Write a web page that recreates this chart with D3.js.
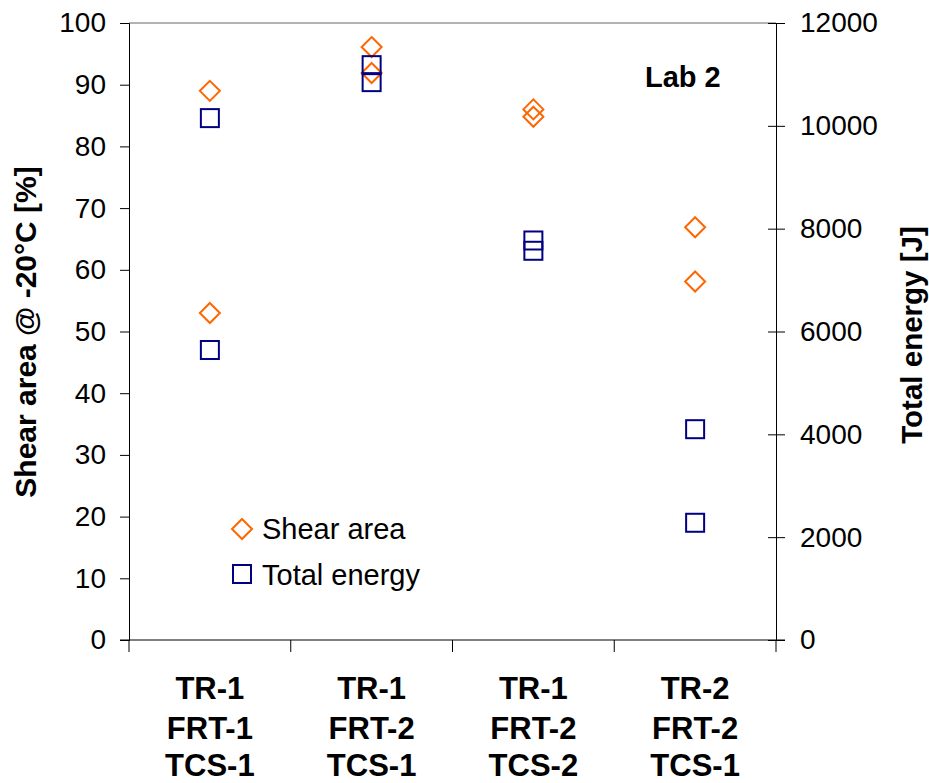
<!DOCTYPE html>
<html><head><meta charset="utf-8">
<script src="https://cdn.jsdelivr.net/npm/d3@7"></script>
<style>body{margin:0;background:#fff}text{font-family:"Liberation Sans",Arial,sans-serif}</style>
</head><body><svg id="c" width="929" height="783"></svg>
<script>
const categories = [["TR-1","FRT-1","TCS-1"],["TR-1","FRT-2","TCS-1"],["TR-1","FRT-2","TCS-2"],["TR-2","FRT-2","TCS-1"]];
const shearArea = [[89.0,53.0],[96.1,91.9],[86.0,84.8],[66.9,58.1]];
const totalEnergy = [[10150,5640],[11180,10850],[7770,7570],[4100,2280]];
const leftTicks = [0,10,20,30,40,50,60,70,80,90,100];
const rightTicks = [0,2000,4000,6000,8000,10000,12000];

const svg = d3.select("#c");
const L=129, R=776, T=23, B=640;
const x = d3.scaleBand().domain(d3.range(categories.length)).range([L,R]).paddingInner(0).paddingOuter(0);
const yL = d3.scaleLinear().domain([0,100]).range([B,T]);
const yR = d3.scaleLinear().domain([0,12000]).range([B,T]);
const orange="#FF6600", navy="#000080";

// top border
svg.append("line").attr("x1",L).attr("x2",R).attr("y1",T).attr("y2",T).attr("stroke","#999").attr("stroke-width",1.5);

// left axis
const gl = svg.append("g").attr("transform",`translate(${L},0)`)
  .call(d3.axisLeft(yL).tickValues(leftTicks).tickSize(9).tickPadding(14));
gl.selectAll("text").style("font-size","28px").attr("fill","#000");
gl.selectAll("line,path").attr("stroke","#000");

// right axis
const gr = svg.append("g").attr("transform",`translate(${R},0)`)
  .call(d3.axisRight(yR).tickValues(rightTicks).tickFormat(d3.format("d")).tickSize(9).tickPadding(15));
gr.selectAll("text").style("font-size","28px").attr("fill","#000");
gr.selectAll("line,path").attr("stroke","#000");
gr.selectAll(".tick line").attr("x1",-8);

// bottom axis
const bx = d3.range(categories.length+1).map(i=> i<categories.length ? x(i) : R);
svg.append("line").attr("x1",L-9).attr("x2",R+9).attr("y1",B).attr("y2",B).attr("stroke","#000");
svg.selectAll(".bt").data(bx).enter().append("line")
  .attr("x1",d=>d).attr("x2",d=>d).attr("y1",B).attr("y2",B+12).attr("stroke","#000");

// category labels
const lineY = [699,739,776];
categories.forEach((c,i)=>{
  const t = svg.append("text").attr("text-anchor","middle").style("font-size","31px").style("font-weight","bold");
  c.forEach((s,j)=> t.append("tspan").attr("x",x(i)+x.bandwidth()/2).attr("y",lineY[j]).text(s));
});

const diamond = (cx,cy,r)=>`M${cx},${cy-r}L${cx+r},${cy}L${cx},${cy+r}L${cx-r},${cy}Z`;
const sq = 18;
// shear diamonds
shearArea.forEach((vals,i)=>vals.forEach(v=>{
  svg.append("path").attr("d",diamond(x(i)+x.bandwidth()/2,yL(v),10)).attr("fill","none").attr("stroke",orange).attr("stroke-width",2);
}));
// energy squares
totalEnergy.forEach((vals,i)=>vals.forEach(v=>{
  svg.append("rect").attr("x",x(i)+x.bandwidth()/2-sq/2).attr("y",yR(v)-sq/2).attr("width",sq).attr("height",sq)
    .attr("fill","none").attr("stroke",navy).attr("stroke-width",2);
}));

// legend
svg.append("path").attr("d",diamond(242,529,10)).attr("fill","none").attr("stroke",orange).attr("stroke-width",2);
svg.append("rect").attr("x",233).attr("y",565).attr("width",sq).attr("height",sq).attr("fill","none").attr("stroke",navy).attr("stroke-width",2);
svg.append("text").attr("x",262).attr("y",539).style("font-size","29px").text("Shear area");
svg.append("text").attr("x",262).attr("y",585).style("font-size","29px").text("Total energy");

// Lab 2
svg.append("text").attr("x",645).attr("y",87).style("font-size","29px").style("font-weight","bold").text("Lab 2");

// axis titles
svg.append("text").attr("transform","translate(36,332) rotate(-90)").attr("text-anchor","middle")
  .style("font-size","30px").style("font-weight","bold").text("Shear area @ -20°C [%]");
svg.append("text").attr("transform","translate(922,335) rotate(-90)").attr("text-anchor","middle")
  .style("font-size","29.5px").style("font-weight","bold").text("Total energy [J]");
</script></body></html>
